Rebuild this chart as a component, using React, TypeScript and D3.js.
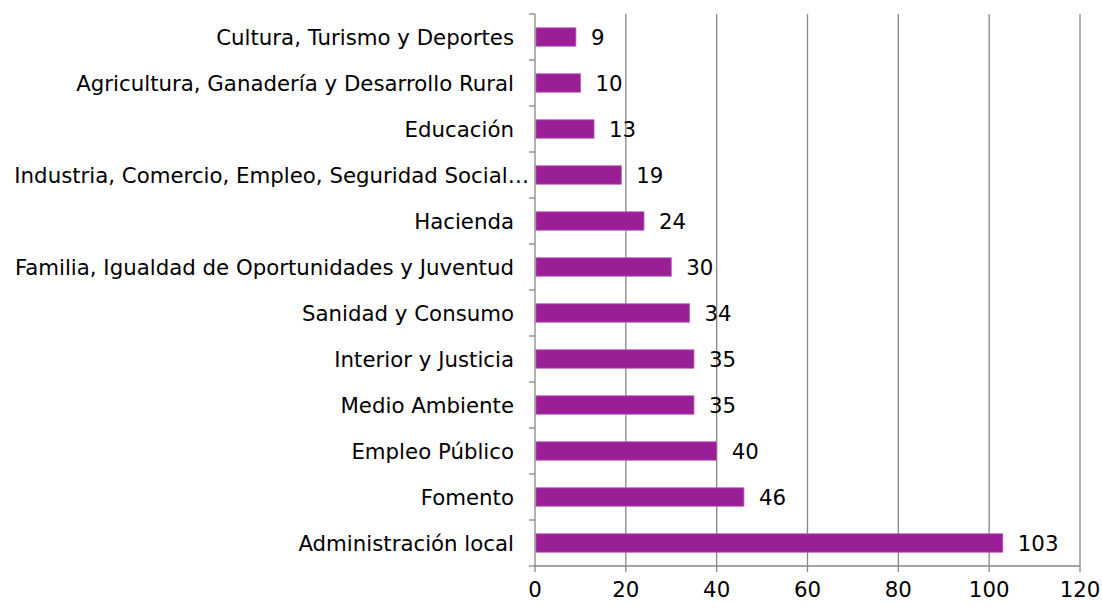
import React, { useEffect, useRef } from 'react';
import * as d3 from 'd3';

const categories = [
  'Cultura, Turismo y Deportes',
  'Agricultura, Ganadería y Desarrollo Rural',
  'Educación',
  'Industria, Comercio, Empleo, Seguridad Social…',
  'Hacienda',
  'Familia, Igualdad de Oportunidades y Juventud',
  'Sanidad y Consumo',
  'Interior y Justicia',
  'Medio Ambiente',
  'Empleo Público',
  'Fomento',
  'Administración local',
];
const values = [9, 10, 13, 19, 24, 30, 34, 35, 35, 40, 46, 103];
const xTicks = [0, 20, 40, 60, 80, 100, 120];

const FONT = '"DejaVu Sans", sans-serif';
const FONT_SIZE = '21.3px';

export default function App() {
  const ref = useRef<SVGSVGElement>(null);

  useEffect(() => {
    if (!ref.current) return;
    const svg = d3.select(ref.current);
    svg.selectAll('*').remove();

    const left = 535;
    const right = 1080;
    const top = 14;
    const bottom = 566;

    const x = d3.scaleLinear().domain([0, 120]).range([left, right]);
    const y = d3
      .scaleBand<string>()
      .domain(categories)
      .range([top, bottom])
      .paddingInner(0.6)
      .paddingOuter(0.3);
    const step = (bottom - top) / categories.length;

    // vertical grid lines
    svg
      .append('g')
      .selectAll('line')
      .data(xTicks.slice(1))
      .enter()
      .append('line')
      .attr('x1', (d) => x(d))
      .attr('x2', (d) => x(d))
      .attr('y1', top)
      .attr('y2', bottom + 6)
      .attr('stroke', '#878787')
      .attr('stroke-width', 1.3);

    // x axis line + tick at 0
    svg
      .append('line')
      .attr('x1', left)
      .attr('x2', right)
      .attr('y1', bottom)
      .attr('y2', bottom)
      .attr('stroke', '#878787')
      .attr('stroke-width', 1.3);
    svg
      .append('line')
      .attr('x1', left)
      .attr('x2', left)
      .attr('y1', bottom)
      .attr('y2', bottom + 6)
      .attr('stroke', '#878787')
      .attr('stroke-width', 1.3);

    // y axis line + ticks at category boundaries
    svg
      .append('line')
      .attr('x1', left)
      .attr('x2', left)
      .attr('y1', top)
      .attr('y2', bottom)
      .attr('stroke', '#878787')
      .attr('stroke-width', 1.3);
    svg
      .append('g')
      .selectAll('line')
      .data(d3.range(categories.length + 1))
      .enter()
      .append('line')
      .attr('x1', left - 6)
      .attr('x2', left)
      .attr('y1', (i) => top + i * step)
      .attr('y2', (i) => top + i * step)
      .attr('stroke', '#878787')
      .attr('stroke-width', 1.3);

    // bars
    svg
      .append('g')
      .selectAll('rect')
      .data(values)
      .enter()
      .append('rect')
      .attr('x', x(0) + 1)
      .attr('y', (d, i) => y(categories[i])!)
      .attr('width', (d) => x(d) - x(0) - 1)
      .attr('height', y.bandwidth())
      .attr('fill', '#9A1F97')
      .attr('stroke', '#B45AB2')
      .attr('stroke-width', 0.8);

    // value labels
    svg
      .append('g')
      .selectAll('text')
      .data(values)
      .enter()
      .append('text')
      .text((d) => d)
      .attr('x', (d) => x(d) + 15)
      .attr('y', (d, i) => y(categories[i])! + y.bandwidth() / 2)
      .attr('dy', '0.36em')
      .style('font-family', FONT)
      .style('font-size', FONT_SIZE)
      .style('fill', '#000');

    // category labels (truncated one runs up to the axis)
    svg
      .append('g')
      .selectAll('text')
      .data(categories)
      .enter()
      .append('text')
      .text((d) => d)
      .attr('x', (d) => (d.endsWith('…') ? left - 6 : left - 21))
      .attr('y', (d) => y(d)! + y.bandwidth() / 2)
      .attr('dy', '0.36em')
      .attr('text-anchor', 'end')
      .style('font-family', FONT)
      .style('font-size', FONT_SIZE)
      .style('fill', '#000');

    // x tick labels
    svg
      .append('g')
      .selectAll('text')
      .data(xTicks)
      .enter()
      .append('text')
      .text((d) => d)
      .attr('x', (d) => x(d))
      .attr('y', 589)
      .attr('dy', '0.36em')
      .attr('text-anchor', 'middle')
      .style('font-family', FONT)
      .style('font-size', FONT_SIZE)
      .style('fill', '#000');
  }, []);

  return (
    <svg
      ref={ref}
      width={1102}
      height={608}
      style={{ position: 'absolute', left: 0, top: 0, background: '#fff' }}
    />
  );
}
